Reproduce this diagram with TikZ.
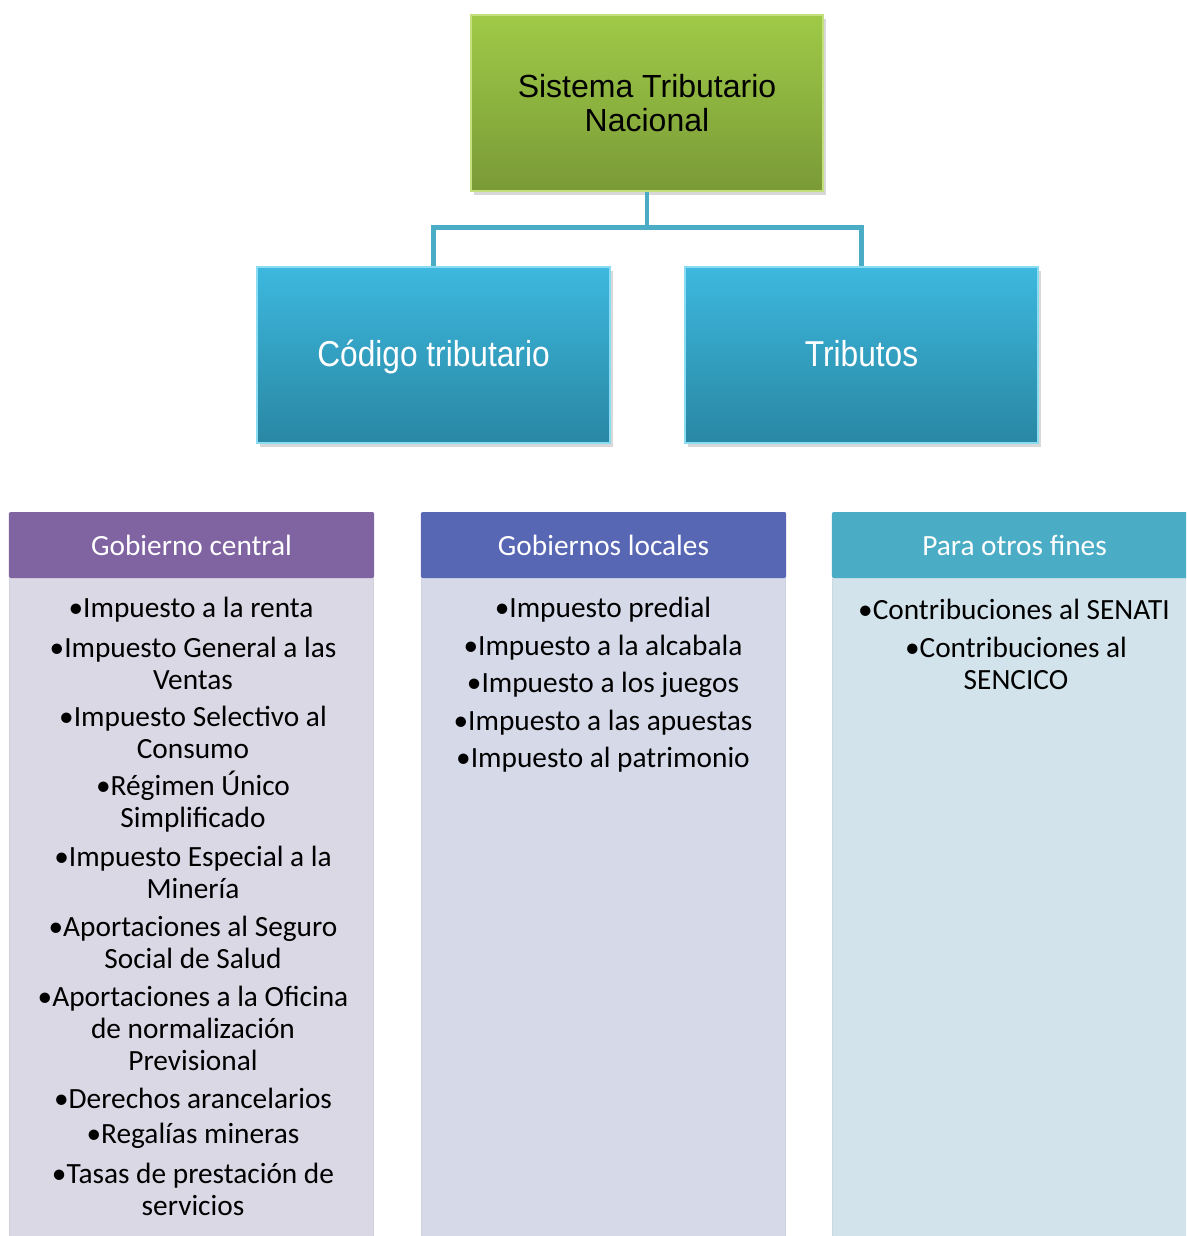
\documentclass[tikz,border=0pt]{standalone}
\usepackage{fontspec}
\setmainfont{Carlito}
\newfontfamily\arialf{Liberation Sans}
\newfontfamily\narrowf[FakeStretch=0.88]{Liberation Sans}
\usetikzlibrary{shadows}
\definecolor{greenT}{HTML}{9FCA47}
\definecolor{greenB}{HTML}{7A9A37}
\definecolor{greenE}{HTML}{C4E07E}
\definecolor{blueT}{HTML}{3DB8DE}
\definecolor{blueB}{HTML}{2987A3}
\definecolor{blueE}{HTML}{8ADCF2}
\definecolor{connC}{HTML}{4BACC6}
\definecolor{purpH}{HTML}{8064A2}
\definecolor{indH}{HTML}{5867B4}
\definecolor{aquaH}{HTML}{4BACC6}
\definecolor{purpB}{HTML}{DBD8E5}
\definecolor{indB}{HTML}{D5D9E8}
\definecolor{aquaB}{HTML}{D3E3EB}
\tikzset{
  topbox/.style={draw=greenE, line width=1.2pt, top color=greenT, bottom color=greenB,
    minimum width=264pt, minimum height=132pt, inner sep=0pt, align=center,
    font=\arialf\fontsize{24pt}{25.5pt}\selectfont, text=black,
    drop shadow={opacity=0.3, shadow xshift=2pt, shadow yshift=-3pt}},
  bluebox/.style={draw=blueE, line width=1.2pt, top color=blueT, bottom color=blueB,
    minimum width=265pt, minimum height=132pt, inner sep=0pt, align=center,
    text height=16.5pt, text depth=0pt,
    font=\narrowf\fontsize{27pt}{30pt}\selectfont, text=white,
    drop shadow={opacity=0.3, shadow xshift=2pt, shadow yshift=-3pt}},
  conn/.style={draw=connC, line width=3.6pt},
  headbox/.style={minimum width=274pt, minimum height=49.5pt, inner sep=0pt,
    rounded corners=1.5pt, text=white, font=\fontsize{22pt}{24pt}\selectfont},
  item/.style={inner sep=0pt, align=center, text=black,
    font=\fontsize{22pt}{24pt}\selectfont},
}
\begin{document}
\begin{tikzpicture}[x=0.75pt,y=-0.75pt]
\useasboundingbox (0,0) rectangle (1186,1236);
\clip (0,0) rectangle (1186,1236);
\fill[white] (0,0) rectangle (1186,1236);

% hierarchy
\node[topbox] (top) at (647,103) {Sistema Tributario\\Nacional};
\node[bluebox] (codigo) at (433.5,355) {Código tributario};
\node[bluebox] (tributos) at (861.5,355) {Tributos};
\coordinate (bar) at (647,228);
\draw[conn] (top.south) -- (bar);
\draw[conn] (codigo.north) -- ++(0,-39) -| (tributos.north);

% columns bodies
\fill[purpB] (9,578) rectangle (374,1250);
\fill[indB] (421,578) rectangle (786,1250);
\fill[aquaB] (832,578) rectangle (1197,1250);
\draw[purpB!85!black, opacity=0.25, line width=1pt] (9.5,578) -- (9.5,1250) (373.5,578) -- (373.5,1250);
\draw[indB!85!black, opacity=0.25, line width=1pt] (421.5,578) -- (421.5,1250) (785.5,578) -- (785.5,1250);
\draw[aquaB!85!black, opacity=0.25, line width=1pt] (832.5,578) -- (832.5,1250);

% headers
\node[headbox, fill=purpH] (h1) at (191.5,545) {Gobierno central};
\node[headbox, fill=indH] (h2) at (603.5,545) {Gobiernos locales};
\node[headbox, fill=aquaH] (h3) at (1014.5,545) {Para otros fines};

% column 1 items
\node[item] (a1) at (191,610) {•Impuesto a la renta};
\node[item] (a2) at (193,663) {•Impuesto General a las\\Ventas};
\node[item] (a3) at (193,732.5) {•Impuesto Selectivo al\\Consumo};
\node[item] (a4) at (193,802) {•Régimen Único\\Simplificado};
\node[item] (a5) at (193,872) {•Impuesto Especial a la\\Minería};
\node[item] (a6) at (193,942) {•Aportaciones al Seguro\\Social de Salud};
\node[item] (a7) at (193,1028) {•Aportaciones a la Oficina\\de normalización\\Previsional};
\node[item] (a8) at (193,1098) {•Derechos arancelarios};
\node[item] (a9) at (193,1136) {•Regalías mineras};
\node[item] (a10) at (193,1189) {•Tasas de prestación de\\servicios};

% column 2 items
\node[item] (b1) at (603,610) {•Impuesto predial};
\node[item] (b2) at (603,648) {•Impuesto a la alcabala};
\node[item] (b3) at (603,685) {•Impuesto a los juegos};
\node[item] (b4) at (603,723) {•Impuesto a las apuestas};
\node[item] (b5) at (603,760) {•Impuesto al patrimonio};

% column 3 items
\node[item] (c1) at (1014,609) {•Contribuciones al SENATI};
\node[item] (c2) at (1016,663) {•Contribuciones al\\SENCICO};
\end{tikzpicture}
\end{document}
